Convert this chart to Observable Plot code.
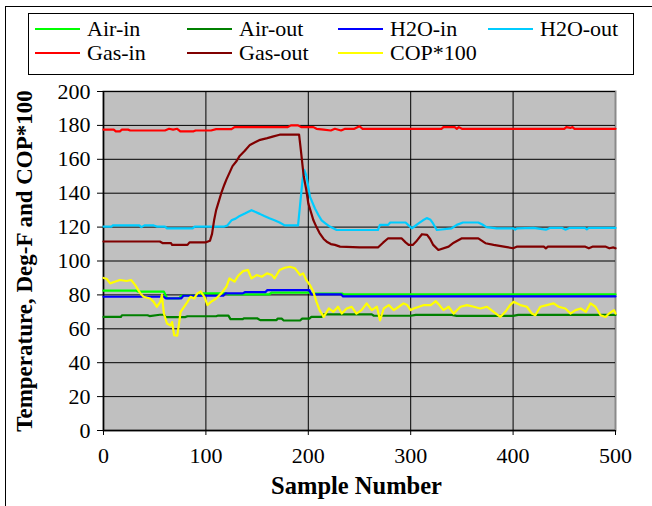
<!DOCTYPE html>
<html><head><meta charset="utf-8">
<script src="https://cdn.jsdelivr.net/npm/d3@7"></script>
<script src="https://cdn.jsdelivr.net/npm/@observablehq/plot@0.6"></script>
<style>
body{margin:0;background:#fff;}
#wrap{position:relative;width:652px;height:506px;overflow:hidden;font-family:"Liberation Serif","DejaVu Serif",serif;background:#fff;}
#wrap svg{position:absolute;left:0;top:0;}
#border{position:absolute;left:5px;top:6px;right:-10px;bottom:-10px;border-left:1.5px solid #000;border-top:1.5px solid #000;pointer-events:none;}
#legend{position:absolute;left:28px;top:13px;width:606px;height:62px;border:1px solid #000;background:#fff;box-sizing:border-box;display:grid;grid-template-columns:152px 151px 150px 150px;grid-auto-rows:24px;padding:3px 0 0 6px;}
.item{display:flex;align-items:center;font-size:22px;color:#000;white-space:nowrap;}
.sw{width:45px;height:2px;margin-right:7px;flex:none;}
</style>
</head><body>
<div id="wrap"><div id="border"></div></div>
<script>
// ---- data ----
const seriesNames  = ["Air-in","Air-out","H2O-in","H2O-out","Gas-in","Gas-out","COP*100"];
const seriesColors = ["#00ff00","#008000","#0000ff","#00ccff","#ff0000","#800000","#ffff00"];
const xTicks = [0,100,200,300,400,500];
const yTicks = [0,20,40,60,80,100,120,140,160,180,200];

const airIn = [[0,82.5],[32,82.5],[34,81.9],[59,81.9],[62,78],[74,78],[76,79.5],[94,79.5],[96,80.9],[120,80.9],[122,80.3],[162,80.3],[164,81.3],[201,81.3],[203,80.8],[233,80.8],[235,80.3],[500,80.3]];

const airOut = [[0,67],[17,67],[18,68],[43,68],[45,67.5],[55,68.3],[59,68.3],[61,66.9],[80,66.9],[82,67.4],[110,67.4],[112,67.8],[122,67.8],[124,65.7],[136,65.7],[137,66.2],[150,66.2],[153,65.1],[169,65.1],[170,66],[174,66],[176,64.9],[192,64.9],[194,66],[201,66],[203,67],[213,67],[215,68.5],[262,68.5],[264,67.7],[300,67.7],[305,68.2],[340,68.2],[345,67.6],[400,67.6],[405,68.2],[500,68.2]];

const h2oIn = [[0,78.9],[59,78.9],[61,78],[76,78],[78,79.5],[117,79.5],[119,80.9],[136,80.9],[138,81.6],[158,81.6],[160,82.8],[201,82.8],[203,80.3],[232,80.3],[234,79.1],[500,79.1]];

const h2oOut = [[0,120.3],[8,120.3],[9,121],[35,121],[37,120],[40,121],[49,121],[52,120.3],[60,120.3],[62,119.3],[87,119.3],[89,120.3],[118,120.3],[121,121],[125,124],[129,125],[133,126.6],[138,128],[144.5,130],[148,129],[152.6,127.8],[157,126.5],[162,125.2],[167,124],[172,122.7],[177,121],[190,121],[191.8,132],[194.4,148],[196,153.8],[198.3,150],[201.6,138],[206.5,131],[210,127],[213,124],[217,122],[221,120.3],[227.7,118.3],[268,118.3],[270,121.3],[278,121.3],[280,122.7],[295,122.7],[298,121],[301,119.3],[304,120.5],[308,122.3],[312,124],[315.7,125.3],[319,124.5],[322,122],[325.5,118.3],[340,119.3],[345,121.3],[351,122.7],[366,122.7],[370,121.5],[374,120],[384,119.3],[400,119.3],[402,118.5],[404,119.3],[420,119.5],[432,118.5],[436,119.5],[448,119.5],[451,118.5],[455,119.5],[470,119.5],[472,118.7],[474,119.5],[500,119.5]];

const gasIn = [[0,177.5],[10,177.5],[12,176.5],[16,176.5],[18,177.5],[24,177.5],[26,177],[60,177],[64,178],[68,177.5],[72,178],[75,176.5],[88,176.5],[90,177],[105,177],[110,177.8],[125,177.8],[128,179],[180,179],[183,180],[190,180],[193,179],[205,179],[208,178],[215,177.5],[222,177],[226,178],[232,177],[236,178],[245,178],[250,179.5],[253,178],[330,178],[332,179],[343,179],[345,178],[347,179],[350,178],[450,178],[452,179],[456,178.5],[458,179],[460,178],[500,178]];

const gasOut = [[0,111.5],[55,111.5],[58,110.5],[66,110.5],[67,109.5],[82,109.5],[84,111],[100,111],[104,112],[106,116],[108,124],[110,130],[112,134],[115,140],[118,145],[120,148],[123,152],[126,156],[130,159],[133,162],[138,165],[143,168.5],[148,170],[153,171.5],[160,172.5],[166,173.5],[172,174.5],[191,174.5],[193,164],[195.5,150],[198,142],[200,134],[203,128],[205,124],[208,120],[211,116.5],[215,113],[218,111.4],[222,110],[226,109.5],[231,108.5],[250,108],[268,108],[273,110.8],[278,113.4],[291,113.4],[295,111],[298,109.5],[302,109.5],[306,112],[311,115.8],[316,115.4],[319,113],[322,109.5],[327,106.5],[337,108.5],[342,110.8],[350,113.4],[366,113.4],[373,110.5],[381,109.5],[391,108.5],[400,107.5],[404,108.5],[430,108.5],[432,107.5],[434,108.5],[470,108.5],[474,107.5],[478,108.5],[490,108.5],[494,107.5],[498,108],[500,107.5]];

const cop = [[0,90],[3,89.5],[6.5,86.8],[11,87.8],[16,88.8],[22.5,88.2],[27,88.8],[31,85.8],[36,80.9],[39,78.9],[45.6,77.9],[49,75.9],[52,73],[55.5,75.9],[57,80],[59,69],[62,63.1],[65.5,62],[67,64],[69,56.2],[72,56],[74,64],[75.3,70],[78.7,73],[82,75.9],[85,78.9],[88.5,77.9],[91.7,80.9],[95,82],[98.5,78.9],[101.6,74],[104.9,75.9],[110,77.9],[115,80.9],[120,84.8],[123,89.7],[128,87.8],[131.5,91.3],[136.3,94],[141,94.7],[144.6,89.7],[149.5,91.7],[154.6,90.7],[159.6,92.7],[164.5,91.7],[167,89.7],[172,94.7],[177,96],[182,96.6],[187,95.7],[192,91.7],[195,92.7],[198,88.8],[201.6,85.8],[205,81.8],[208,75.9],[211,71],[215,67],[220,72],[224.5,70],[229,73],[232.7,69],[237.5,72],[242.4,73],[247,69],[252,71],[257,75],[262,71],[267,73],[270,65],[273.7,72],[278.6,74],[283.5,71],[288.4,73],[293,75],[296.6,74],[300,71],[303,72],[308,73],[313,74],[319.6,74],[324.5,76.3],[328,74],[332,71],[337,73],[342,69],[348.6,73],[355,74],[361.6,73],[368,72],[374.6,73],[381,70],[387.5,67],[392.4,70],[397,74],[400.5,75.9],[407,74],[413.5,73],[418.4,69],[421.7,68],[426.6,73],[433,74],[439.6,75],[444.5,73],[451,72],[456,69],[461,71],[466,72],[471,70],[475.6,75],[480.5,73],[485.4,68],[490.3,67],[493.6,69],[498.5,71],[500,69]];

const seriesData = [airIn, airOut, h2oIn, h2oOut, gasIn, gasOut, cop];
const xTitle = "Sample Number";
const yTitle = "Temperature, Deg-F and COP*100";

// ---- chart ----
const lineMarks = seriesData.map((pts, i) =>
  Plot.line(pts.map(([s, v]) => ({s, v})), {x: "s", y: "v", stroke: seriesColors[i], strokeWidth: 2.2, curve: "linear"})
);

const chart = Plot.plot({
  width: 652, height: 506,
  marginLeft: 103, marginRight: 37, marginTop: 91, marginBottom: 76,
  x: {domain: [0, 500]},
  y: {domain: [0, 200]},
  style: {fontFamily: '"Liberation Serif","DejaVu Serif",serif', fontSize: "22px", color: "#000", background: "transparent", overflow: "visible"},
  marks: [
    Plot.frame({fill: "#c0c0c0", stroke: "#8a8a8a", strokeWidth: 2}),
    Plot.gridY(yTicks.slice(1), {stroke: "#000", strokeOpacity: 1, strokeWidth: 1}),
    Plot.gridX(xTicks.slice(1, -1), {stroke: "#000", strokeOpacity: 1, strokeWidth: 1}),
    Plot.axisY(yTicks, {tickSize: 6, tickPadding: 7, label: null, fontSize: 22, stroke: "#000"}),
    Plot.axisX(xTicks, {tickSize: 5, tickPadding: 12, label: null, fontSize: 22, stroke: "#000"}),
    Plot.ruleY([0], {stroke: "#000", strokeWidth: 1.5}),
    Plot.ruleX([0], {stroke: "#000", strokeWidth: 1.5}),
    ...lineMarks,
    Plot.text([xTitle], {text: d => d, frameAnchor: "bottom", dy: 56, dx: -3, textAnchor: "middle", lineAnchor: "middle", fontWeight: "bold", fontSize: 24.5}),
    Plot.text([yTitle], {text: d => d, frameAnchor: "left", rotate: -90, dx: -79, textAnchor: "middle", lineAnchor: "middle", fontWeight: "bold", fontSize: 23})
  ]
});

const wrap = document.getElementById("wrap");
wrap.insertBefore(chart, wrap.firstChild);

// legend (HTML, above the plot)
const legend = document.createElement("div");
legend.id = "legend";
seriesNames.forEach((name, i) => {
  const item = document.createElement("div");
  item.className = "item";
  const sw = document.createElement("span");
  sw.className = "sw";
  sw.style.background = seriesColors[i];
  item.appendChild(sw);
  item.appendChild(document.createTextNode(name));
  legend.appendChild(item);
});
wrap.appendChild(legend);
</script>
</body></html>
